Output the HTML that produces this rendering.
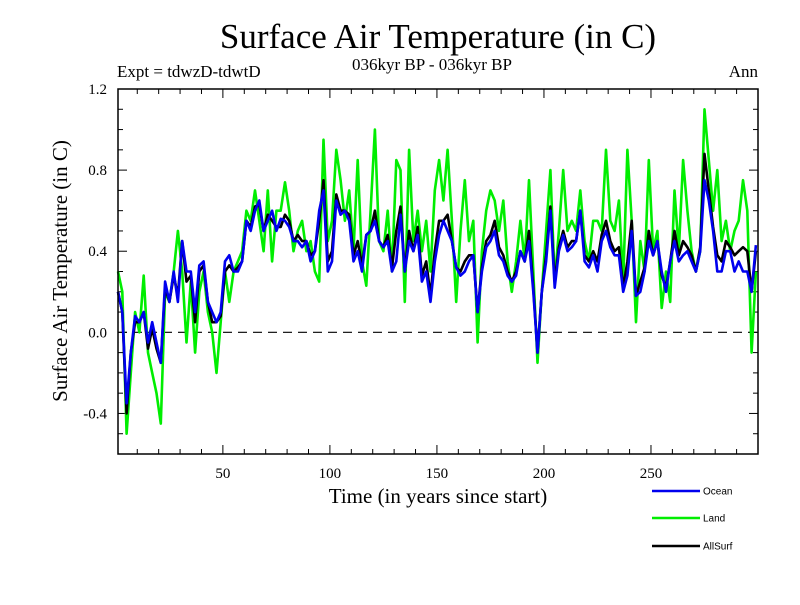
<!DOCTYPE html>
<html><head><meta charset="utf-8"><style>
body{margin:0;background:#fff;}
svg text{font-family:"Liberation Serif",serif;}
</style></head><body>
<svg id="chart" width="800" height="600" xmlns="http://www.w3.org/2000/svg">
<rect width="800" height="600" fill="#fff"/>
<text x="438" y="48" font-size="35" text-anchor="middle">Surface Air Temperature (in C)</text>
<text x="117" y="77" font-size="17">Expt = tdwzD-tdwtD</text>
<text x="432" y="70" font-size="17" text-anchor="middle">036kyr BP - 036kyr BP</text>
<text x="758" y="77" font-size="17" text-anchor="end">Ann</text>
<text x="438" y="503" font-size="21" text-anchor="middle">Time (in years since start)</text>
<text transform="translate(67,271) rotate(-90)" font-size="21" text-anchor="middle">Surface Air Temperature (in C)</text>
<g id="ticks"></g>
<g id="series"></g>
<rect x="118" y="89" width="640" height="365" fill="none" stroke="#000" stroke-width="1.5"/>
<g id="legend"></g>
</svg>
<script>
const years = [];
for (let y = 1; y <= 299; y += 2) years.push(y);
const ocean = [0.2,0.1,-0.35,-0.1,0.08,0.05,0.1,-0.05,0.05,-0.05,-0.15,0.25,0.15,0.3,0.15,0.45,0.3,0.3,0.1,0.33,0.35,0.15,0.1,0.05,0.1,0.35,0.38,0.3,0.3,0.35,0.55,0.5,0.6,0.65,0.5,0.55,0.6,0.5,
0.56,0.55,0.52,0.45,0.45,0.42,0.45,0.35,0.4,0.6,0.7,0.3,0.35,0.65,0.58,0.6,0.55,0.35,0.4,0.3,0.48,0.5,0.55,0.45,0.42,0.45,0.3,0.35,0.58,0.3,0.45,0.4,0.48,0.25,0.3,0.15,0.35,
0.48,0.55,0.5,0.45,0.32,0.28,0.3,0.35,0.38,0.1,0.3,0.42,0.45,0.5,0.38,0.35,0.28,0.25,0.28,0.4,0.35,0.45,0.2,-0.1,0.2,0.35,0.6,0.22,0.4,0.48,0.4,0.42,0.45,0.6,0.35,0.32,0.38,
0.3,0.45,0.5,0.42,0.38,0.38,0.2,0.28,0.5,0.18,0.2,0.3,0.45,0.38,0.45,0.3,0.2,0.35,0.45,0.35,0.38,0.4,0.35,0.3,0.4,0.75,0.65,0.5,0.3,0.3,0.4,0.4,0.3,0.35,0.3,0.3,0.2,0.43];
const land = [0.3,0.2,-0.5,-0.2,0.1,0.0,0.28,-0.1,-0.2,-0.3,-0.45,0.2,0.15,0.3,0.5,0.3,-0.05,0.25,-0.1,0.2,0.3,0.1,0.0,-0.2,0.05,0.3,0.15,0.3,0.35,0.4,0.6,0.55,0.7,0.55,0.4,0.7,0.35,0.6,
0.6,0.74,0.6,0.4,0.5,0.55,0.4,0.45,0.3,0.25,0.95,0.45,0.55,0.9,0.75,0.55,0.7,0.4,0.85,0.35,0.23,0.6,1.0,0.45,0.4,0.6,0.3,0.85,0.8,0.15,0.9,0.45,0.6,0.4,0.55,0.3,0.7,
0.85,0.65,0.9,0.55,0.15,0.5,0.75,0.45,0.55,-0.05,0.4,0.6,0.7,0.65,0.5,0.65,0.35,0.2,0.35,0.55,0.35,0.75,0.3,-0.15,0.2,0.5,0.8,0.25,0.5,0.8,0.5,0.55,0.5,0.7,0.45,0.35,0.55,
0.55,0.5,0.9,0.55,0.5,0.65,0.25,0.9,0.55,0.05,0.45,0.3,0.85,0.4,0.5,0.12,0.3,0.15,0.7,0.4,0.85,0.6,0.4,0.3,0.4,1.1,0.85,0.6,0.8,0.45,0.55,0.4,0.5,0.55,0.75,0.6,-0.1,0.3];
const allsurf = [0.2,0.1,-0.4,-0.1,0.05,0.05,0.1,-0.08,0.02,-0.08,-0.15,0.22,0.15,0.28,0.18,0.45,0.25,0.28,0.05,0.3,0.33,0.15,0.05,0.05,0.08,0.3,0.33,0.3,0.32,0.35,0.55,0.52,0.62,0.63,0.5,0.58,0.55,0.52,
0.52,0.58,0.55,0.45,0.48,0.45,0.45,0.38,0.4,0.55,0.75,0.35,0.4,0.68,0.6,0.6,0.58,0.38,0.45,0.33,0.48,0.5,0.6,0.45,0.42,0.48,0.32,0.5,0.62,0.3,0.5,0.4,0.52,0.28,0.35,0.18,0.4,
0.55,0.55,0.58,0.45,0.32,0.3,0.35,0.38,0.38,0.1,0.32,0.45,0.48,0.55,0.42,0.38,0.3,0.25,0.3,0.4,0.35,0.5,0.22,-0.1,0.2,0.38,0.62,0.25,0.42,0.5,0.42,0.45,0.45,0.6,0.38,0.35,0.4,
0.35,0.48,0.55,0.45,0.4,0.42,0.22,0.35,0.55,0.18,0.25,0.32,0.5,0.38,0.45,0.28,0.22,0.35,0.5,0.38,0.45,0.42,0.38,0.3,0.42,0.88,0.7,0.52,0.38,0.35,0.45,0.42,0.38,0.4,0.42,0.4,0.2,0.4];
const yTickLabels = ["-0.4","0.0","0.4","0.8","1.2"];
const xTickLabels = ["50","100","150","200","250"];

const NS = "http://www.w3.org/2000/svg";
const X0 = 118, X1 = 758, Y0 = 454, Y1 = 89;
const xMin = 1, xMax = 300, yMin = -0.6, yMax = 1.2;
function xs(v){ return X0 + (v - xMin) / (xMax - xMin) * (X1 - X0); }
function ys(v){ return Y0 - (v - yMin) / (yMax - yMin) * (Y0 - Y1); }
function mk(tag, attrs, parent){ const e = document.createElementNS(NS, tag); for (const k in attrs) e.setAttribute(k, attrs[k]); parent.appendChild(e); return e; }

const tg = document.getElementById('ticks');
for (let i = 0; i <= 18; i++) {
  const v = yMin + i * 0.1, y = ys(v);
  const major = (Math.round(v * 10) % 4 === 0) && i > 0;
  const len = major ? 9 : 5;
  const t1 = mk('line', {x1: X0, x2: X0 + len, y1: y, y2: y, stroke: '#000', 'stroke-width': 1}, tg);
  
  
  mk('line', {x1: X1, x2: X1 - len, y1: y, y2: y, stroke: '#000', 'stroke-width': 1}, tg);
}
yTickLabels.forEach(s => {
  const t = mk('text', {x: 107, y: ys(parseFloat(s)) + 5, 'font-size': 15, 'text-anchor': 'end'}, tg);
  t.textContent = s;
  
  
});
const z = mk('line', {x1: X0, x2: X1, y1: ys(0), y2: ys(0), stroke: '#000', 'stroke-width': 1.2, 'stroke-dasharray': '9,6'}, tg);


for (let v = 10; v < 300; v += 10) {
  const x = xs(v), len = v % 50 === 0 ? 9 : 5;
  const t = mk('line', {x1: x, x2: x, y1: Y0, y2: Y0 - len, stroke: '#000', 'stroke-width': 1}, tg);
  
  
  mk('line', {x1: x, x2: x, y1: Y1, y2: Y1 + len, stroke: '#000', 'stroke-width': 1}, tg);
}
xTickLabels.forEach(s => {
  const t = mk('text', {x: xs(parseFloat(s)), y: 478, 'font-size': 15, 'text-anchor': 'middle'}, tg);
  t.textContent = s;
  
  
});

const sg = document.getElementById('series');
function draw(vals, color, name){
  let d = '';
  vals.forEach((v, i) => { d += (i ? 'L' : 'M') + xs(years[i]).toFixed(1) + ',' + ys(v).toFixed(1); });
  const p = mk('path', {d: d, fill: 'none', stroke: color, 'stroke-width': 2.6, 'stroke-linejoin': 'round'}, sg);
  
  
}
draw(land, '#00ee00', 'land-line');
draw(allsurf, '#000000', 'allsurf-line');
draw(ocean, '#0000ee', 'ocean-line');

const lg = document.getElementById('legend');
[['Ocean', '#0000ee', 491], ['Land', '#00ee00', 518], ['AllSurf', '#000', 546]].forEach(([lab, col, y]) => {
  const l = mk('line', {x1: 652, x2: 700, y1: y, y2: y, stroke: col, 'stroke-width': 2.5}, lg);
  
  
  const t = mk('text', {x: 703, y: y + 3.5, 'font-size': 10, style: 'font-family:"Liberation Sans",sans-serif'}, lg);
  t.textContent = lab;
  
  
});
</script>
</body></html>
